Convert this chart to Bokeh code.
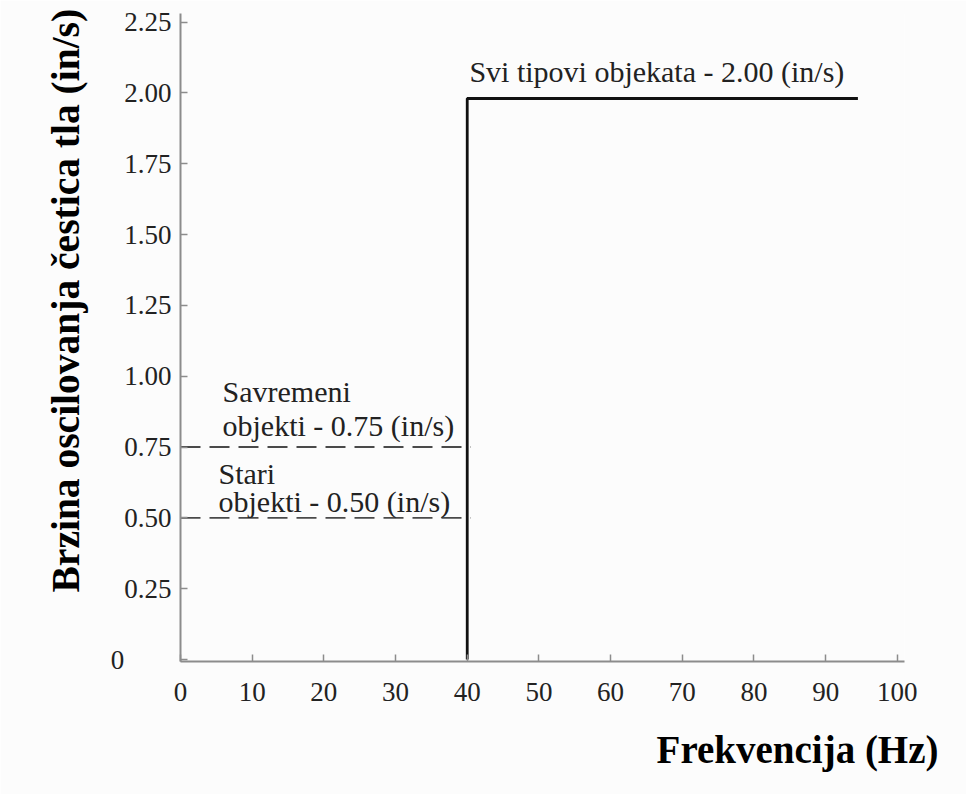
import math
from bokeh.plotting import figure
from bokeh.models import FixedTicker, Label, Range1d, Title
from bokeh.embed import file_html
from bokeh.resources import INLINE

# ---- data ----
step_freq = [40, 40, 94.5]
step_vel = [0, 1.98, 1.98]
modern_freq = [0, 40.5]
modern_vel = [0.75, 0.75]
old_freq = [0, 40.5]
old_vel = [0.50, 0.50]

x_ticks = [0, 10, 20, 30, 40, 50, 60, 70, 80, 90, 100]
y_ticks = [0, 0.25, 0.50, 0.75, 1.00, 1.25, 1.50, 1.75, 2.00, 2.25]
y_tick_labels = ["0", "0.25", "0.50", "0.75", "1.00", "1.25", "1.50", "1.75", "2.00", "2.25"]

x_title = "Frekvencija (Hz)"
y_title = "Brzina oscilovanja čestica tla (in/s)"
all_label = "Svi tipovi objekata - 2.00 (in/s)"
modern_label = ["Savremeni", "objekti - 0.75 (in/s)"]
old_label = ["Stari", "objekti - 0.50 (in/s)"]

FONT = "Liberation Serif"
BG = "#fcfcfc"

p = figure(width=966, height=794, output_backend="svg", toolbar_location=None,
           x_range=Range1d(0, 101), y_range=Range1d(-0.007, 2.28),
           min_border_left=180, min_border_right=62, min_border_top=13,
           min_border_bottom=133)
p.background_fill_color = BG
p.border_fill_color = BG
p.outline_line_color = None
p.grid.visible = False

for ax in (p.xaxis[0], p.yaxis[0]):
    ax.axis_line_color = "#8c8c8c"
    ax.axis_line_width = 2
    ax.major_tick_line_color = "#8c8c8c"
    ax.major_tick_line_width = 1.5
    ax.major_tick_in = 7
    ax.major_tick_out = 0
    ax.minor_tick_line_color = None
    ax.major_label_text_font = FONT
    ax.major_label_text_font_size = "27px"
    ax.major_label_text_color = "#222222"

p.xaxis.ticker = FixedTicker(ticks=x_ticks)
p.xaxis.major_label_standoff = 21
p.yaxis.ticker = FixedTicker(ticks=y_ticks)
overrides = {t: s for t, s in zip(y_ticks, y_tick_labels)}
overrides[0] = "0" + "\u00a0" * 7
p.yaxis.major_label_overrides = overrides
p.yaxis.major_label_standoff = 9

# lines
p.line(step_freq, step_vel, line_color="#111111", line_width=2.8)
p.line(modern_freq, modern_vel, line_color="#4a4a4a", line_width=1.8, line_dash="20 9")
p.line(old_freq, old_vel, line_color="#4a4a4a", line_width=1.8, line_dash="20 9")

def lab(x, y, text, size="30px"):
    p.add_layout(Label(x=x, y=y, text=text,
                       text_font=FONT, text_font_size=size,
                       text_color="#222222",
                       text_align="left", text_baseline="alphabetic"))

lab(40.3, 2.075, all_label)
lab(5.86, 0.945, modern_label[0])
lab(5.86, 0.825, modern_label[1])
lab(5.3, 0.656, old_label[0])
lab(5.3, 0.557, old_label[1])

# axis titles
xt = Title(text=x_title, align="right", offset=-34, standoff=44,
           text_font=FONT, text_font_size="39px", text_font_style="bold",
           text_color="#000000")
p.add_layout(xt, "below")
yt = Title(text=y_title, align="left", offset=69, standoff=40,
           text_font=FONT, text_font_size="39.5px", text_font_style="bold",
           text_color="#000000")
p.add_layout(yt, "left")

open("out.html", "w").write(file_html(p, INLINE))
